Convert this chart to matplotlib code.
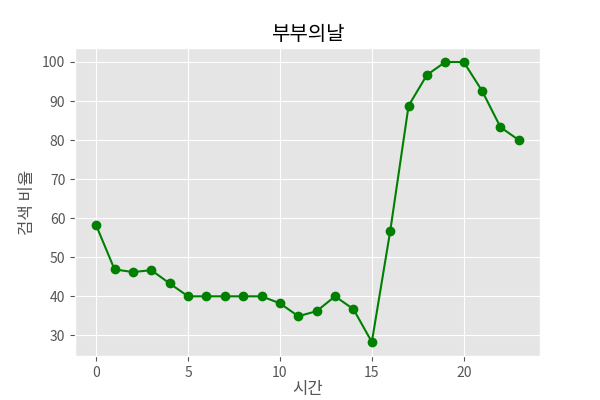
import matplotlib
matplotlib.use("Agg")
import matplotlib.pyplot as plt

plt.style.use("ggplot")
plt.rcParams['font.family'] = ['Noto Sans CJK KR', 'DejaVu Sans']
plt.rcParams['axes.unicode_minus'] = False

hours = list(range(24))
ratio = [58.2, 46.9, 46.2, 46.7, 43.3, 40.0, 40.0, 40.0, 40.0, 40.0, 38.2, 34.9,
         36.2, 40.0, 36.7, 28.3, 56.7, 88.8, 96.7, 100.0, 100.0, 92.6, 83.3, 80.0]

fig, ax = plt.subplots(figsize=(6, 4), dpi=100)
ax.plot(hours, ratio, color='green', marker='o')
ax.set_title('부부의날')
ax.set_xlabel('시간', labelpad=1)
ax.set_ylabel('검색 비율')
fig.subplots_adjust(left=0.125, right=0.9, bottom=0.11, top=0.88)
fig.savefig('out.png')
